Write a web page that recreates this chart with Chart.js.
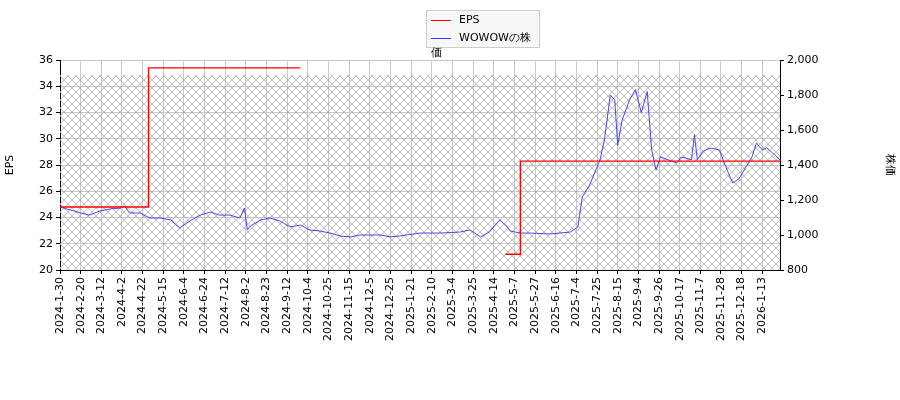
<!DOCTYPE html>
<html>
<head>
<meta charset="utf-8">
<script src="https://cdn.jsdelivr.net/npm/chart.js@4"></script>
<style>
body { margin: 0; background: #fff; }
#wrap { position: relative; width: 900px; height: 400px; }
#legend { position: absolute; left: 426px; top: 10px; width: 112px; height: 36px; border: 1px solid #ccc; background: #f7f7f7;
  font: 11px "DejaVu Sans"; color: #000; }
#legend div { position: absolute; left: 4px; }
#legend span { display: inline-block; width: 20px; height: 0; border-top: 1.5px solid; vertical-align: middle; margin-right: 8px; }
</style>
</head>
<body>
<div id="wrap">
<canvas id="c" width="900" height="400"></canvas>
<div id="legend">
  <div style="top:2px"><span style="border-color:#f00"></span>EPS</div>
  <div style="top:19px"><span style="border-color:#33f"></span>WOWOWの株価</div>
</div>
</div>
<script>
const tickLabels = ['2024-1-30','2024-2-20','2024-3-12','2024-4-2','2024-4-22','2024-5-15','2024-6-4','2024-6-24',
  '2024-7-12','2024-8-2','2024-8-23','2024-9-12','2024-10-4','2024-10-25','2024-11-15','2024-12-5','2024-12-25',
  '2025-1-21','2025-2-10','2025-3-4','2025-3-25','2025-4-14','2025-5-7','2025-5-27','2025-6-16','2025-7-4',
  '2025-7-25','2025-8-15','2025-9-4','2025-9-26','2025-10-17','2025-11-7','2025-11-28','2025-12-18','2026-1-13'];

// trading-day index and values
const epsIdx = [0, 60, 60, 163, 164, 302, 312, 312, 488];
const epsVal = [24.8, 24.8, 35.4, 35.4, null, 21.2, 21.2, 28.3, 28.3];

const priceIdx = [0,7,14,20,27,34,41,44,47,54,61,68,75,81,88,95,102,108,115,122,125,127,129,136,142,149,156,163,
  169,176,183,190,197,203,217,224,230,244,258,271,278,285,291,298,302,305,312,319,332,346,351,354,359,366,369,
  373,376,378,381,386,390,394,398,401,404,407,418,421,428,430,432,436,441,447,450,453,456,460,465,469,472,476,479,483,488];
const priceVal = [1160,1143,1126,1114,1137,1149,1154,1166,1126,1126,1097,1097,1086,1040,1080,1114,1131,1114,1114,1097,
  1154,1029,1051,1086,1097,1080,1046,1057,1029,1023,1011,994,989,1000,1000,989,994,1011,1011,1017,1029,989,1017,
  1086,1057,1023,1011,1011,1006,1017,1046,1217,1286,1429,1543,1800,1771,1514,1657,1771,1830,1700,1820,1486,1371,
  1446,1411,1446,1430,1571,1430,1480,1497,1486,1417,1354,1297,1320,1389,1446,1526,1486,1497,1469,1429];

const hatchTop = 34.86;

function makePattern() {
  const p = document.createElement('canvas');
  p.width = 8; p.height = 8;
  const g = p.getContext('2d');
  g.strokeStyle = '#b0b0b0';
  g.lineWidth = 0.8;
  g.beginPath();
  g.moveTo(0, 0); g.lineTo(8, 8);
  g.moveTo(8, 0); g.lineTo(0, 8);
  g.stroke();
  return g.createPattern(p, 'repeat');
}

const hatchPlugin = {
  id: 'hatch',
  beforeDatasetsDraw(chart) {
    const { ctx, chartArea: a, scales } = chart;
    const top = scales.y.getPixelForValue(hatchTop);
    ctx.save();
    ctx.fillStyle = makePattern();
    ctx.fillRect(a.left, top, a.right - a.left, a.bottom - top);
    ctx.restore();
  }
};

const font = { family: 'DejaVu Sans', size: 11 };

new Chart(document.getElementById('c'), {
  type: 'line',
  data: {
    datasets: [
      {
        label: 'EPS', yAxisID: 'y',
        data: epsIdx.map((x, i) => ({ x: x, y: epsVal[i] })),
        borderColor: '#f00', borderWidth: 1.3, pointRadius: 0, spanGaps: false
      },
      {
        label: 'WOWOWの株価', yAxisID: 'y2',
        data: priceIdx.map((x, i) => ({ x: x, y: priceVal[i] })),
        borderColor: '#33f', borderWidth: 0.9, pointRadius: 0
      }
    ]
  },
  options: {
    responsive: false, animation: false,
    layout: { padding: { top: 60 } },
    plugins: { legend: { display: false }, tooltip: { enabled: false } },
    scales: {
      x: {
        type: 'linear', min: 0, max: 488,
        afterBuildTicks: s => { s.ticks = tickLabels.map((_, i) => ({ value: i * 14 })); },
        afterFit: s => { s.height = 130; },
        ticks: { font: font, color: '#000', maxRotation: 90, minRotation: 90, autoSkip: false,
          callback: v => tickLabels[Math.round(v / 14)] },
        grid: { color: '#c8c8c8', tickColor: '#000', tickLength: 4 },
        border: { color: '#000' }
      },
      y: {
        position: 'left', min: 20, max: 36,
        afterFit: s => { s.width = 60; },
        ticks: { stepSize: 2, font: font, color: '#000' },
        title: { display: true, text: 'EPS', font: font, color: '#000' },
        grid: { color: '#c8c8c8', tickColor: '#000', tickLength: 4 },
        border: { color: '#000' }
      },
      y2: {
        position: 'right', min: 800, max: 2000,
        afterFit: s => { s.width = 120; },
        ticks: { stepSize: 200, font: font, color: '#000' },
        title: { display: true, text: '株価', font: font, color: '#000' },
        grid: { drawOnChartArea: false, tickColor: '#000', tickLength: 4 },
        border: { color: '#000' }
      }
    }
  },
  plugins: [hatchPlugin]
});
</script>
</body>
</html>
